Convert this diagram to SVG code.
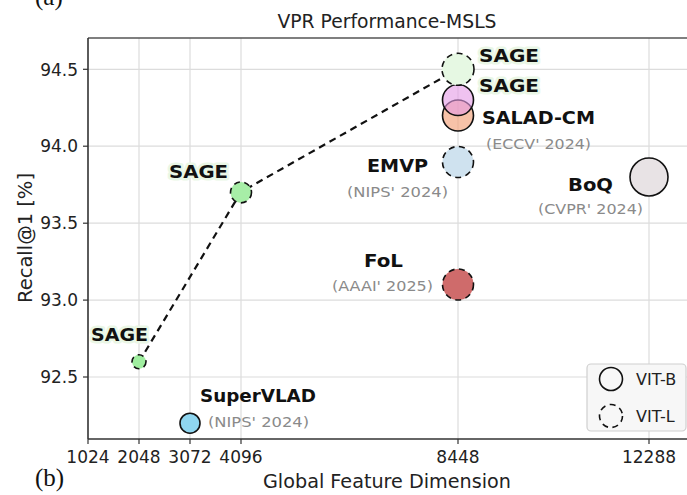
<svg xmlns="http://www.w3.org/2000/svg" width="687" height="495" viewBox="0 0 687 495">
<style>
.grid{stroke:#dcdcdc;stroke-width:1.2;fill:none}
.spine{stroke:#333;stroke-width:1.6;fill:none}
.tick{stroke:#333;stroke-width:1.2}
.tl{font-family:"DejaVu Sans",sans-serif;font-size:17px;fill:#222}
.ax{font-family:"DejaVu Sans",sans-serif;font-size:19px;fill:#222}
.name{font-family:"DejaVu Sans",sans-serif;font-weight:bold;font-size:18px;fill:#111}
.sage{paint-order:stroke;stroke:#eaf7e6;stroke-width:5;stroke-linejoin:round}
.venue{font-family:"DejaVu Sans",sans-serif;font-size:14px;fill:#8a8a8a}
.pt{stroke:#111;stroke-width:1.6}
.dash{stroke-dasharray:6,4.5}
.lab{font-family:"Liberation Serif",serif;font-size:25px;fill:#111}
</style>
<rect width="687" height="495" fill="#fff"/>
<text class="lab" x="35" y="5">(a)</text>
<text class="lab" x="35" y="486">(b)</text>
<text class="ax" x="387" y="28" text-anchor="middle" textLength="219" lengthAdjust="spacingAndGlyphs">VPR Performance-MSLS</text>
<g id="grid">
<line class="grid" x1="139" y1="38" x2="139" y2="439"/>
<line class="grid" x1="190" y1="38" x2="190" y2="439"/>
<line class="grid" x1="241" y1="38" x2="241" y2="439"/>
<line class="grid" x1="458" y1="38" x2="458" y2="439"/>
<line class="grid" x1="649" y1="38" x2="649" y2="439"/>
<line class="grid" x1="88" y1="69.3" x2="687" y2="69.3"/>
<line class="grid" x1="88" y1="146.2" x2="687" y2="146.2"/>
<line class="grid" x1="88" y1="223.2" x2="687" y2="223.2"/>
<line class="grid" x1="88" y1="300.1" x2="687" y2="300.1"/>
<line class="grid" x1="88" y1="377" x2="687" y2="377"/>
</g>
<g id="axes">
<line class="spine" x1="88" y1="38" x2="687" y2="38" style="stroke:#555"/>
<line class="spine" x1="88" y1="38" x2="88" y2="439"/>
<line class="spine" x1="88" y1="439" x2="687" y2="439"/>
<line class="tick" x1="83" y1="69.3" x2="88" y2="69.3"/>
<line class="tick" x1="83" y1="146.2" x2="88" y2="146.2"/>
<line class="tick" x1="83" y1="223.2" x2="88" y2="223.2"/>
<line class="tick" x1="83" y1="300.1" x2="88" y2="300.1"/>
<line class="tick" x1="83" y1="377" x2="88" y2="377"/>
<line class="tick" x1="88" y1="439" x2="88" y2="444"/>
<line class="tick" x1="139" y1="439" x2="139" y2="444"/>
<line class="tick" x1="190" y1="439" x2="190" y2="444"/>
<line class="tick" x1="241" y1="439" x2="241" y2="444"/>
<line class="tick" x1="458" y1="439" x2="458" y2="444"/>
<line class="tick" x1="649" y1="439" x2="649" y2="444"/>
<g class="tl" text-anchor="end">
<text x="78" y="75.5">94.5</text>
<text x="78" y="152.4">94.0</text>
<text x="78" y="229.4">93.5</text>
<text x="78" y="306.3">93.0</text>
<text x="78" y="383.2">92.5</text>
</g>
<g class="tl" text-anchor="middle">
<text x="88" y="463">1024</text>
<text x="139" y="463">2048</text>
<text x="190" y="463">3072</text>
<text x="241" y="463">4096</text>
<text x="458" y="463">8448</text>
<text x="649" y="463">12288</text>
</g>
<text class="ax" x="387" y="488" text-anchor="middle" textLength="248" lengthAdjust="spacingAndGlyphs">Global Feature Dimension</text>
<text class="ax" transform="translate(32,238) rotate(-90)" text-anchor="middle" textLength="130" lengthAdjust="spacingAndGlyphs">Recall@1 [%]</text>
</g>
<g id="connectors">
<polyline points="139,362 241,192 458,69" fill="none" stroke="#111" stroke-width="2.2" stroke-dasharray="7,5"/>
</g>
<g id="boq">
<circle class="pt" cx="649" cy="177" r="19" fill="#e8e3e5"/>
<text class="name" x="568" y="191" textLength="45" lengthAdjust="spacingAndGlyphs">BoQ</text>
<text class="venue" x="538" y="214" textLength="105" lengthAdjust="spacingAndGlyphs">(CVPR' 2024)</text>
</g>
<g id="fol">
<circle class="pt dash" cx="458" cy="284.5" r="15.5" fill="#cf6b6b"/>
<text class="name" x="364" y="267" textLength="39" lengthAdjust="spacingAndGlyphs">FoL</text>
<text class="venue" x="332" y="291" textLength="101" lengthAdjust="spacingAndGlyphs">(AAAI' 2025)</text>
</g>
<g id="emvp">
<circle class="pt dash" cx="458" cy="162" r="15.5" fill="#cfe2ef"/>
<text class="name" x="367" y="172" textLength="61" lengthAdjust="spacingAndGlyphs">EMVP</text>
<text class="venue" x="347" y="197" textLength="101" lengthAdjust="spacingAndGlyphs">(NIPS' 2024)</text>
</g>
<g id="salad-cm">
<circle class="pt" cx="458" cy="115.5" r="15.5" fill="#f2a27a" fill-opacity="0.65"/>
<text class="name" x="482" y="124" textLength="113" lengthAdjust="spacingAndGlyphs">SALAD-CM</text>
<text class="venue" x="486" y="149" textLength="105" lengthAdjust="spacingAndGlyphs">(ECCV' 2024)</text>
</g>
<g id="sage-b">
<circle class="pt" cx="458" cy="100" r="15.5" fill="#e49ae6" fill-opacity="0.6"/>
<text class="name sage" x="479" y="92" textLength="60" lengthAdjust="spacingAndGlyphs">SAGE</text>
</g>
<g id="sage-l">
<circle class="pt dash" cx="458" cy="69.3" r="16" fill="#e6f8e3"/>
<text class="name sage" x="479" y="62" textLength="60" lengthAdjust="spacingAndGlyphs">SAGE</text>
</g>
<g id="sage-4096">
<circle class="pt dash" cx="241" cy="192.4" r="10.5" fill="#a7eea7"/>
<text class="name sage" x="169" y="178" textLength="59" lengthAdjust="spacingAndGlyphs">SAGE</text>
</g>
<g id="sage-2048">
<circle class="pt dash" cx="139" cy="361.8" r="7" fill="#a0eea0"/>
<text class="name sage" x="91" y="341" textLength="57" lengthAdjust="spacingAndGlyphs">SAGE</text>
</g>
<g id="supervlad">
<circle class="pt" cx="190" cy="423.2" r="10" fill="#8fd6f0"/>
<text class="name" x="200" y="402" textLength="116" lengthAdjust="spacingAndGlyphs">SuperVLAD</text>
<text class="venue" x="208" y="427" textLength="101" lengthAdjust="spacingAndGlyphs">(NIPS' 2024)</text>
</g>
<g id="legend">
<rect x="587" y="364" width="99" height="67" rx="4" fill="#f7f7f7" stroke="#cfcfcf" stroke-width="1.2"/>
<circle cx="611" cy="379" r="11.5" fill="none" stroke="#111" stroke-width="1.6"/>
<circle cx="611" cy="416" r="11.5" fill="none" stroke="#111" stroke-width="1.6" stroke-dasharray="6,4.5"/>
<text class="tl" x="636" y="385" style="font-size:16px">VIT-B</text>
<text class="tl" x="636" y="422" style="font-size:16px">VIT-L</text>
</g>
</svg>
